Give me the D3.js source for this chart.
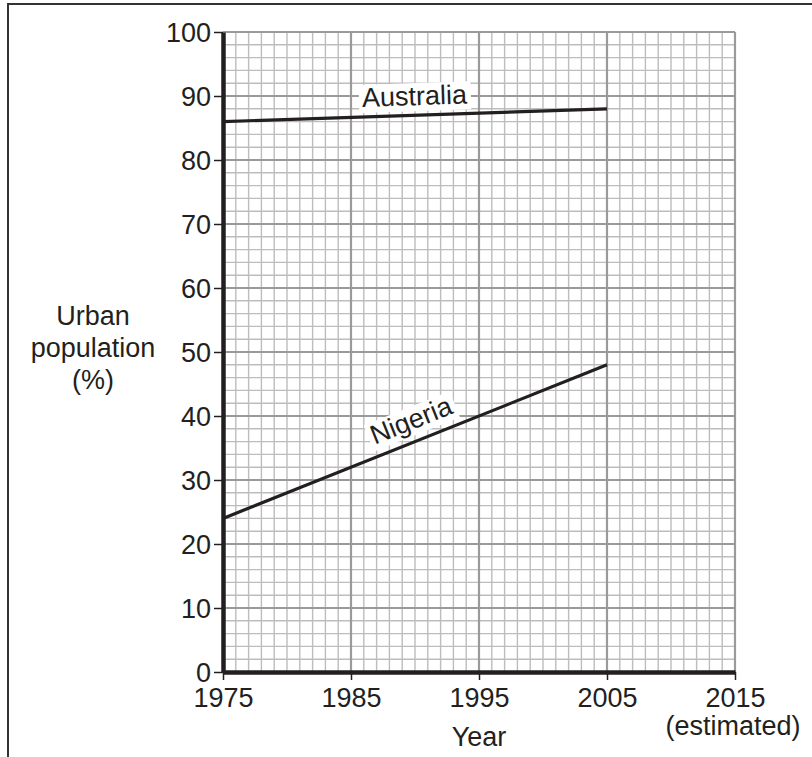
<!DOCTYPE html>
<html>
<head>
<meta charset="utf-8">
<script src="https://cdn.jsdelivr.net/npm/d3@7"></script>
<style>
  body { margin: 0; background: #fff; }
  svg text { font-family: "Liberation Sans", Arial, sans-serif; fill: #231f20; }
</style>
</head>
<body>
<script>
  // data
  const years = [1975, 2005];
  const australia = [86, 88];
  const nigeria = [24, 48];
  const yTicks = [0, 10, 20, 30, 40, 50, 60, 70, 80, 90, 100];
  const xTicks = [1975, 1985, 1995, 2005, 2015];
  const yLabel = ["Urban", "population", "(%)"];

  const width = 812;
  const height = 757;

  const svg = d3.select("body").append("svg")
    .attr("width", width)
    .attr("height", height);

  // page frame (top and left only)
  svg.append("path")
    .attr("d", "M8,757 L8,4 L812,4")
    .attr("fill", "none")
    .attr("stroke", "#333")
    .attr("stroke-width", 2);

  const x = d3.scaleLinear().domain([1975, 2015]).range([223, 735]);
  const y = d3.scaleLinear().domain([0, 100]).range([672, 32]);

  // grid
  const grid = svg.append("g");
  grid.selectAll(".vminor")
    .data(d3.range(1976, 2015).filter(d => (d - 1975) % 10 !== 0))
    .enter().append("line")
    .attr("x1", d => x(d)).attr("x2", d => x(d))
    .attr("y1", y(100)).attr("y2", y(0))
    .attr("stroke", "#bdbdbd").attr("stroke-width", 1.4);
  grid.selectAll(".hminor")
    .data(d3.range(2, 100, 2).filter(d => d % 10 !== 0))
    .enter().append("line")
    .attr("x1", x(1975)).attr("x2", x(2015))
    .attr("y1", d => y(d)).attr("y2", d => y(d))
    .attr("stroke", "#bdbdbd").attr("stroke-width", 1.4);
  grid.selectAll(".vmajor")
    .data(xTicks.slice(1))
    .enter().append("line")
    .attr("x1", d => x(d)).attr("x2", d => x(d))
    .attr("y1", y(100)).attr("y2", y(0))
    .attr("stroke", "#9a9a9a").attr("stroke-width", 2.2);
  grid.selectAll(".hmajor")
    .data(yTicks.slice(1))
    .enter().append("line")
    .attr("x1", x(1975)).attr("x2", x(2015))
    .attr("y1", d => y(d)).attr("y2", d => y(d))
    .attr("stroke", "#9a9a9a").attr("stroke-width", 2.2);

  // axes
  const yAxis = d3.axisLeft(y).tickValues(yTicks).tickSize(9).tickSizeOuter(0).tickPadding(3);
  const xAxis = d3.axisBottom(x).tickValues(xTicks).tickFormat(d3.format("d"))
    .tickSize(8).tickSizeOuter(0).tickPadding(8);

  const gy = svg.append("g").attr("transform", "translate(" + x(1975) + ",0)").call(yAxis);
  const gx = svg.append("g").attr("transform", "translate(0," + y(0) + ")").call(xAxis);

  [gx, gy].forEach(function (g) {
    g.select(".domain").attr("stroke", "#231f20").attr("stroke-width", 4.5);
    g.selectAll(".tick line").attr("stroke", "#231f20").attr("stroke-width", 1.5);
    g.selectAll(".tick text")
      .attr("font-size", 27)
      .style("font-family", "'Liberation Sans', Arial, sans-serif")
      .attr("fill", "#231f20");
  });
  gx.selectAll(".tick text").attr("dy", "0.72em");
  gy.selectAll(".tick text").attr("dy", "0.36em");

  // axis titles
  svg.append("text")
    .attr("x", x(1995)).attr("y", 746)
    .attr("text-anchor", "middle")
    .attr("font-size", 27)
    .text("Year");
  svg.append("text")
    .attr("x", x(2015) - 2).attr("y", 735)
    .attr("text-anchor", "middle")
    .attr("font-size", 27)
    .text("(estimated)");

  svg.append("text")
    .attr("x", 93).attr("y", 325)
    .attr("text-anchor", "middle")
    .attr("font-size", 27)
    .selectAll("tspan")
    .data(yLabel)
    .enter().append("tspan")
    .attr("x", 93)
    .attr("dy", (d, i) => i === 0 ? 0 : 32)
    .text(d => d);

  // series
  const line = d3.line()
    .x(d => x(d[0]))
    .y(d => y(d[1]));

  const series = [
    { name: "Australia", values: years.map((yr, i) => [yr, australia[i]]), at: 1990, off: 10 },
    { name: "Nigeria", values: years.map((yr, i) => [yr, nigeria[i]]), at: 1990.3, off: 12 }
  ];

  series.forEach(function (s) {
    svg.append("path")
      .attr("d", line(s.values))
      .attr("fill", "none")
      .attr("stroke", "#231f20")
      .attr("stroke-width", 3.2);
  });

  // labels along lines with white boxes
  series.forEach(function (s) {
    const a = s.values[0], b = s.values[1];
    const t = (s.at - a[0]) / (b[0] - a[0]);
    const px = x(s.at);
    const py = y(a[1] + t * (b[1] - a[1]));
    const ang = Math.atan2(y(b[1]) - y(a[1]), x(b[0]) - x(a[0])) * 180 / Math.PI;
    const g = svg.append("g")
      .attr("transform", "translate(" + px + "," + py + ") rotate(" + ang + ")");
    const txt = g.append("text")
      .attr("x", 0).attr("y", -s.off)
      .attr("text-anchor", "middle")
      .attr("font-size", 27)
      .text(s.name);
    const bb = txt.node().getBBox();
    g.insert("rect", "text")
      .attr("x", bb.x - 3).attr("y", bb.y + 2)
      .attr("width", bb.width + 6).attr("height", bb.height - 2)
      .attr("fill", "#fff");
  });
</script>
</body>
</html>
